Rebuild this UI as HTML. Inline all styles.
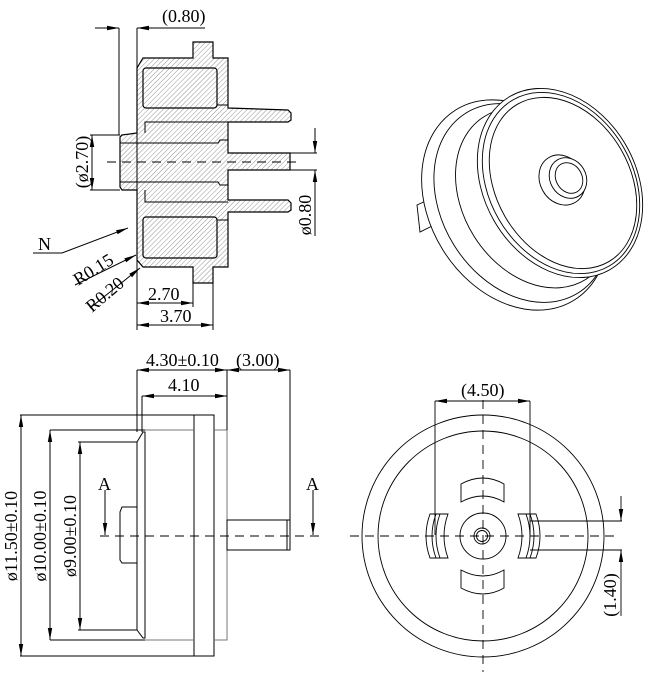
<!DOCTYPE html>
<html><head><meta charset="utf-8"><style>
html,body{margin:0;padding:0;background:#fff;}
svg{display:block;}
text{font-family:"Liberation Serif",serif;font-size:18px;fill:#000;}
</style></head><body>
<svg width="651" height="678" viewBox="0 0 651 678" xmlns="http://www.w3.org/2000/svg">
<defs>
<pattern id="h" patternUnits="userSpaceOnUse" width="3.5" height="3.5" patternTransform="rotate(45)">
<line x1="0" y1="0" x2="0" y2="3.5" stroke="#777" stroke-width="0.8"/></pattern>
<marker id="a" markerWidth="12" markerHeight="6" refX="12" refY="3" orient="auto" markerUnits="userSpaceOnUse">
<path d="M0,0.8 L12,3 L0,5.2z" fill="#000"/></marker>
</defs>
<g stroke="#000" stroke-width="1" fill="none">
<!-- TOP LEFT SECTION -->
<path d="M143,58 L193,58 L193,42 L213,42 L213,58 L228,58 L228,108 L288,110 L291,113 L291,120 L288,122 L228,122 L228,153 L290,153 L290,170 L228,170 L228,200 L288,200 L291,203 L291,210 L288,212 L228,212 L228,267 L213,267 L213,283 L193,283 L193,267 L143,267 L137,260 L137,190 L122,190 L120,187 L120,137 L122,135 L137,133 L137,68 Z" fill="url(#h)" stroke-width="1.2"/>
<rect x="143" y="68" width="74" height="40" rx="3" stroke-width="1.2"/>
<rect x="143" y="217" width="74" height="41" rx="3" stroke-width="1.2"/>
<path d="M217,105 L228,105 M217,220 L228,220"/>
<path d="M145,133 L145,122 L228,122 M120,143 L218,143 L220,140 L228,140 M120,182 L218,182 L220,185 L228,185 M145,190 L145,202 L228,202"/>
<path d="M107,162 L297,162" stroke-dasharray="9,6"/>
<!-- dims top-left -->
<path d="M119,28 L119,135 M137,28 L137,330"/>
<path d="M95,28 L119,28" marker-end="url(#a)"/>
<path d="M205,28 L137,28" marker-end="url(#a)"/>
<path d="M90,135 L120,135 M90,190 L120,190"/>
<path d="M92,162 L92,135" marker-end="url(#a)"/><path d="M92,162 L92,190" marker-end="url(#a)"/>
<path d="M290,153 L317,153 M290,170 L317,170"/>
<path d="M315,128 L315,153" marker-end="url(#a)"/><path d="M315,236 L315,170" marker-end="url(#a)"/>
<path d="M33,253 L62,253 L128,228" marker-end="url(#a)"/>
<path d="M75,285 L136,255" marker-end="url(#a)"/>
<path d="M90,308 L140,268" marker-end="url(#a)"/>
<path d="M193,283 L193,307 M213,283 L213,330"/>
<path d="M165,303 L137,303" marker-end="url(#a)"/><path d="M165,303 L193,303" marker-end="url(#a)"/>
<path d="M175,325 L137,325" marker-end="url(#a)"/><path d="M175,325 L213,325" marker-end="url(#a)"/>
</g>
<text x="162" y="22">(0.80)</text>
<text transform="translate(88,162) rotate(-90)" text-anchor="middle">(ø2.70)</text>
<text transform="translate(311,215) rotate(-90)" text-anchor="middle">ø0.80</text>
<text x="38" y="250" font-size="20">N</text>
<text transform="translate(78,286) rotate(-32)">R0.15</text>
<text transform="translate(92,313) rotate(-40)">R0.20</text>
<text x="148" y="300">2.70</text>
<text x="160" y="322">3.70</text>

<!-- 3D VIEW -->
<g stroke="#000" stroke-width="0.9" fill="#fff">
<path d="M417,205 L428,200 L432,226 L420,232 Z"/>
<ellipse cx="515" cy="205" rx="85" ry="112" transform="rotate(-32 515 205)"/>
<ellipse cx="522" cy="203" rx="80" ry="106" transform="rotate(-32 522 203)" fill="none"/>
<ellipse cx="535" cy="198" rx="72" ry="96" transform="rotate(-32 535 198)" fill="none"/>
<ellipse cx="560" cy="183" rx="76" ry="100" transform="rotate(-30 560 183)"/>
<ellipse cx="561" cy="183" rx="72" ry="96" transform="rotate(-30 561 183)" fill="none"/>
<ellipse cx="563" cy="183" rx="67" ry="91" transform="rotate(-30 563 183)" fill="none"/>
<ellipse cx="562" cy="180" rx="22" ry="26" transform="rotate(-30 562 180)"/>
<ellipse cx="568" cy="178" rx="18" ry="21" transform="rotate(-30 568 178)"/>
<ellipse cx="569" cy="178" rx="13" ry="16" transform="rotate(-30 569 178)"/>
</g>

<!-- BOTTOM LEFT -->
<g stroke="#000" stroke-width="1" fill="none">
<rect x="194" y="415" width="20" height="241" fill="#fff"/>
<path d="M214,430 L227,430 L227,640 L214,640" stroke="#777"/>
<path d="M145,430 L194,430 M145,640 L194,640" stroke="#777"/>
<path d="M137,442 L143,432 L145,432 L145,638 L143,638 L137,630 Z" fill="#fff"/>
<path d="M137,507 L122,507 L120,512 L120,560 L122,563 L137,563"/>
<rect x="227" y="520" width="63" height="30"/>
<path d="M287,520 L287,550"/>
<path d="M100,536 L320,536" stroke-dasharray="9,6"/>
<path d="M20,415 L194,415 M20,656 L194,656 M50,430 L145,430 M50,640 L145,640 M78,442 L137,442 M78,630 L137,630"/>
<path d="M21,536 L21,415" marker-end="url(#a)"/><path d="M21,536 L21,656" marker-end="url(#a)"/>
<path d="M50,536 L50,430" marker-end="url(#a)"/><path d="M50,536 L50,640" marker-end="url(#a)"/>
<path d="M80,536 L80,442" marker-end="url(#a)"/><path d="M80,536 L80,630" marker-end="url(#a)"/>
<path d="M105,490 L105,535" marker-end="url(#a)"/>
<path d="M313,490 L313,535" marker-end="url(#a)"/>
<path d="M137,370 L137,432 M142,396 L142,432 M227,370 L227,430 M290,370 L290,520"/>
<path d="M182,370 L137,370" marker-end="url(#a)"/><path d="M182,370 L227,370" marker-end="url(#a)"/>
<path d="M185,396 L142,396" marker-end="url(#a)"/><path d="M185,396 L227,396" marker-end="url(#a)"/>
<path d="M258,370 L227,370" marker-end="url(#a)"/><path d="M258,370 L290,370" marker-end="url(#a)"/>
</g>
<text x="146" y="366">4.30±0.10</text>
<text x="168" y="391">4.10</text>
<text x="236" y="366">(3.00)</text>
<text transform="translate(17,536) rotate(-90)" text-anchor="middle">ø11.50±0.10</text>
<text transform="translate(46,536) rotate(-90)" text-anchor="middle">ø10.00±0.10</text>
<text transform="translate(76,536) rotate(-90)" text-anchor="middle">ø9.00±0.10</text>
<text x="98" y="490" font-size="19">A</text>
<text x="306" y="490" font-size="19">A</text>

<!-- BOTTOM RIGHT -->
<g stroke="#000" stroke-width="0.9" fill="none">
<circle cx="483" cy="536" r="121"/>
<circle cx="483" cy="536" r="105"/>
<circle cx="483" cy="536" r="23"/>
<circle cx="482" cy="536" r="8"/><circle cx="482" cy="536" r="5.5"/>
<path d="M461,484 Q483,472 504,484 L504,502 Q483,490 461,502 Z"/>
<path d="M461,570 Q483,582 504,570 L504,588 Q483,600 461,588 Z"/>
<path d="M445,514 L430,514 Q422,536 430,558 L448,558 Q440,536 448,514 Z M436,514 Q428,536 436,558 M440,514 Q432,536 440,558"/>
<path d="M521,514 L536,514 Q544,536 536,558 L518,558 Q526,536 518,514 Z M530,514 Q538,536 530,558 M526,514 Q534,536 526,558"/>
<path d="M350,536 L615,536 M483,400 L483,672" stroke-dasharray="9,6"/>
<path d="M435,401 L435,535 M530,401 L530,535"/>
<path d="M483,401 L435,401" marker-end="url(#a)"/><path d="M483,401 L530,401" marker-end="url(#a)"/>
<path d="M530,521 L622,521 M530,550 L622,550"/>
<path d="M621,496 L621,521" marker-end="url(#a)"/><path d="M621,616 L621,550" marker-end="url(#a)"/>
</g>
<text x="461" y="396">(4.50)</text>
<text transform="translate(616,595) rotate(-90)" text-anchor="middle">(1.40)</text>
</svg>
</body></html>
